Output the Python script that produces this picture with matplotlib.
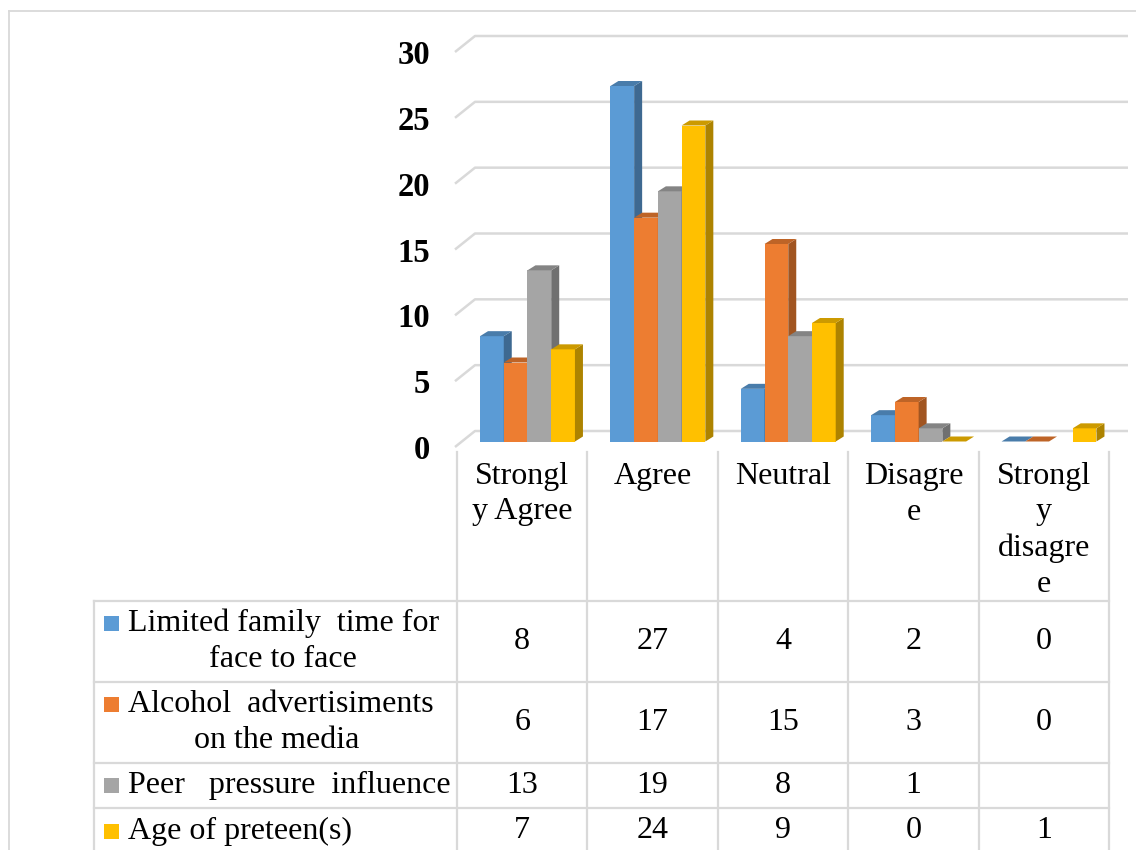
import matplotlib
matplotlib.use("Agg")
import matplotlib.pyplot as plt
import numpy as np
from matplotlib.patches import Polygon, Rectangle
from matplotlib.lines import Line2D
from matplotlib.transforms import ScaledTranslation
import matplotlib.colors as mcolors

# ---- data -------------------------------------------------------------
categories = ["Strongly Agree", "Agree", "Neutral", "Disagree", "Strongly disagree"]
category_labels = ["Strongl\ny Agree", "Agree", "Neutral", "Disagre\ne", "Strongl\ny\ndisagre\ne"]

limited_family_time = [8, 27, 4, 2, 0]
alcohol_adverts = [6, 17, 15, 3, 0]
peer_pressure = [13, 19, 8, 1, None]
preteen_age = [7, 24, 9, 0, 1]

series_values = [limited_family_time, alcohol_adverts, peer_pressure, preteen_age]
series_names = [["Limited family  time for", "face to face"],
                ["Alcohol  advertisiments", "on the media"],
                ["Peer   pressure  influence"],
                ["Age of preteen(s)"]]
series_colors = ["#5B9BD5", "#ED7D31", "#A5A5A5", "#FFC000"]

y_ticks = [0, 5, 10, 15, 20, 25, 30]

# ---- layout -----------------------------------------------------------
W, H = 1136, 850
DPI = 100
FONT = "Liberation Serif"
GRID = "#D9D9D9"


def fx(px):
    return px / W


def fy(py):
    return 1 - py / H


fig = plt.figure(figsize=(W / DPI, H / DPI), dpi=DPI)
fig.patch.set_facecolor("white")

# chart frame
fig.add_artist(Line2D([fx(9), fx(W)], [fy(11), fy(11)], color=GRID, lw=1.3))
fig.add_artist(Line2D([fx(9), fx(9)], [fy(11), fy(H)], color=GRID, lw=1.3))

# plot area (front plane of the bars)
ax_left, ax_right = 462.3, 1114.2
ax_top, ax_bottom = 46.5, 441.5
ax = fig.add_axes([fx(ax_left), fy(ax_bottom),
                   (ax_right - ax_left) / W, (ax_bottom - ax_top) / H])
ax.set_xlim(-0.5, 4.5)
ax.set_ylim(0, 30)
for s in ax.spines.values():
    s.set_visible(False)
ax.set_xticks([])
ax.set_facecolor("none")

px_x = (ax_right - ax_left) / 5.0
px_y = (ax_bottom - ax_top) / 30.0

# 3-D wall gridlines
x_front = (455 - ax_left) / px_x - 0.5
x_back = (475 - ax_left) / px_x - 0.5
x_end = (1128 - ax_left) / px_x - 0.5
y_front_off = -5.5 / px_y
y_back_off = 10.5 / px_y
for v in y_ticks:
    ax.plot([x_front, x_back, x_end],
            [v + y_front_off, v + y_back_off, v + y_back_off],
            color=GRID, lw=1.8, clip_on=False, zorder=1,
            solid_capstyle="butt")

# y tick labels
ax.set_yticks(y_ticks)
ax.set_yticklabels([str(t) for t in y_ticks], fontfamily=FONT,
                   fontweight="bold", fontsize=23.5)
ax.tick_params(axis="y", length=0, pad=23)
shift = ScaledTranslation(0, -5.5 / DPI, fig.dpi_scale_trans)
for lab in ax.get_yticklabels():
    lab.set_transform(lab.get_transform() + shift)


def shade(color, f):
    r, g, b = mcolors.to_rgb(color)
    return (r * f, g * f, b * f)


# 3-D clustered columns
bar_w = 0.182
ddx = 8 / px_x
ddy = 5 / px_y
n_series = len(series_values)
for i in range(len(categories)):
    for j, vals in enumerate(series_values):
        v = vals[i]
        if v is None:
            continue
        c = series_colors[j]
        x0 = i - bar_w * n_series / 2 + j * bar_w
        x1 = x0 + bar_w
        z = 3 + j
        if v > 0:
            ax.add_patch(Rectangle((x0, 0), bar_w, v, facecolor=c,
                                   edgecolor="none", zorder=z))
            ax.add_patch(Polygon([(x1, 0), (x1 + ddx, ddy), (x1 + ddx, v + ddy),
                                  (x1, v)], closed=True,
                                 facecolor=shade(c, 0.68), edgecolor="none", zorder=z))
        ax.add_patch(Polygon([(x0, v), (x1, v), (x1 + ddx, v + ddy),
                              (x0 + ddx, v + ddy)], closed=True,
                             facecolor=shade(c, 0.8), edgecolor="none", zorder=z))

# ---- data table ---------------------------------------------------------
col_left = 457
col_w = 130.4
col_edges = [col_left + k * col_w for k in range(len(categories) + 1)]
row_edges = [601, 682, 763, 808, 858]
tab_left = 94
txt = dict(fontfamily=FONT, fontsize=23, color="black")


def hline(x0, x1, y):
    fig.add_artist(Line2D([fx(x0), fx(x1)], [fy(y), fy(y)], color=GRID, lw=1.6))


def vline(x, y0, y1):
    fig.add_artist(Line2D([fx(x), fx(x)], [fy(y0), fy(y1)], color=GRID, lw=1.6))


for xe in col_edges:
    vline(xe, 452, H)
vline(tab_left, row_edges[0], H)
for ye in row_edges[:-1]:
    hline(tab_left, col_edges[-1], ye)

# category header
for k, lab in enumerate(category_labels):
    cx = col_edges[k] + col_w / 2
    for li, line in enumerate(lab.split("\n")):
        fig.text(fx(cx), fy(476 + 36 * li), line, ha="center", va="center", **txt)

# legend keys, series names and values
second_line_x = [283, 277]
for j, names in enumerate(series_names):
    rc = (row_edges[j] + row_edges[j + 1]) / 2 if j < 3 else 831
    if len(names) == 2:
        y_first, y_second = rc - 18, rc + 18
    else:
        y_first, y_second = rc, None
    fig.add_artist(Rectangle((fx(104), fy(y_first + 7.5)), 15 / W, 15 / H,
                             facecolor=series_colors[j], edgecolor="none",
                             transform=fig.transFigure))
    fig.text(fx(128), fy(y_first), names[0], ha="left", va="center", **txt)
    if y_second is not None:
        fig.text(fx(second_line_x[j]), fy(y_second), names[1],
                 ha="center", va="center", **txt)
    for k, v in enumerate(series_values[j]):
        if v is None:
            continue
        cx = col_edges[k] + col_w / 2
        fig.text(fx(cx), fy(rc), str(v), ha="center", va="center", **txt)

fig.savefig("out.png", dpi=DPI, facecolor="white")
